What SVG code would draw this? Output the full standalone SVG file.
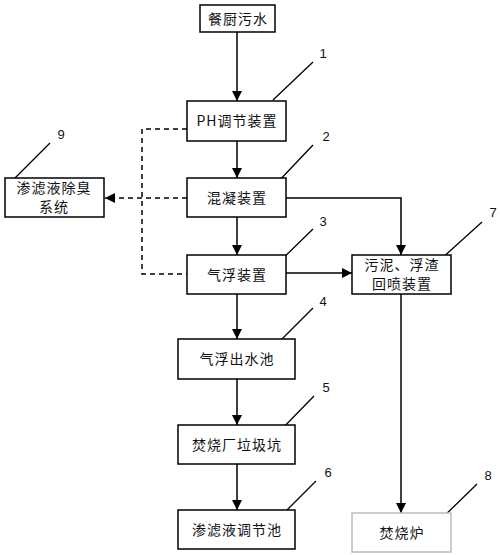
<svg xmlns="http://www.w3.org/2000/svg" width="500" height="555" viewBox="0 0 500 555">
<style>
.box{fill:#fff;stroke:#000;stroke-width:1.5}
.gbox{fill:#fff;stroke:#bdbdbd;stroke-width:1.5}
.t{font-family:"Noto Sans CJK SC","Noto Sans",sans-serif;font-size:14px;text-anchor:middle;fill:#111;letter-spacing:1px}
.n{font-family:"Liberation Sans","Noto Sans",sans-serif;font-size:13px;text-anchor:middle;fill:#111}
.c{fill:none;stroke:#000;stroke-width:1.5}
.d{fill:none;stroke:#000;stroke-width:1.5;stroke-dasharray:5,4}
.l{stroke:#000;stroke-width:1.3}
</style>
<defs>
<marker id="ah" viewBox="0 0 10 10" refX="10" refY="5" markerWidth="7" markerHeight="7" orient="auto" markerUnits="userSpaceOnUse">
<path d="M0,0 L10,5 L0,10 Z" fill="#000"/>
</marker>
<marker id="ahb" viewBox="0 0 10 10" refX="10" refY="5" markerWidth="10" markerHeight="10" orient="auto" markerUnits="userSpaceOnUse">
<path d="M0,0 L10,5 L0,10 Z" fill="#000"/>
</marker>
</defs>
<g id="connectors">
<path class="c" d="M237,32 V101" marker-end="url(#ahb)"/>
<path class="c" d="M237,141 V178" marker-end="url(#ahb)"/>
<path class="c" d="M237,217 V255" marker-end="url(#ahb)"/>
<path class="c" d="M237,294 V339" marker-end="url(#ahb)"/>
<path class="c" d="M237,379 V425" marker-end="url(#ahb)"/>
<path class="c" d="M237,464 V510" marker-end="url(#ahb)"/>
<path class="c" d="M286,198 H401 V255" marker-end="url(#ahb)"/>
<path class="c" d="M286,273 H352" marker-end="url(#ahb)"/>
<path class="c" d="M401,294 V513" marker-end="url(#ahb)"/>
<path class="d" d="M187,129 H142 V274 H187"/>
<path class="d" d="M187,198 H105" marker-end="url(#ahb)"/>
<line class="l" x1="273" y1="100" x2="313" y2="62"/>
<line class="l" x1="275" y1="185" x2="313" y2="145"/>
<line class="l" x1="273" y1="268" x2="313" y2="229"/>
<line class="l" x1="273" y1="348" x2="313" y2="308"/>
<line class="l" x1="275" y1="436" x2="314" y2="396"/>
<line class="l" x1="277" y1="520" x2="316" y2="481"/>
<line class="l" x1="440" y1="260" x2="482" y2="222"/>
<line class="l" x1="437" y1="523" x2="477" y2="484"/>
<line class="l" x1="10" y1="183" x2="50" y2="143"/>
</g>
<g id="n0"><rect class="box" x="200" y="5" width="75" height="27"/><text class="t" x="238" y="24">餐厨污水</text></g>
<g id="n1"><rect class="box" x="187" y="101" width="99" height="40"/><text class="t" x="237" y="126">PH调节装置</text><text class="n" x="323" y="58">1</text></g>
<g id="n2"><rect class="box" x="187" y="178" width="99" height="39"/><text class="t" x="237" y="203">混凝装置</text><text class="n" x="326" y="141">2</text></g>
<g id="n3"><rect class="box" x="187" y="255" width="99" height="39"/><text class="t" x="237" y="280">气浮装置</text><text class="n" x="323" y="226">3</text></g>
<g id="n4"><rect class="box" x="178" y="339" width="117" height="40"/><text class="t" x="237" y="364">气浮出水池</text><text class="n" x="323" y="306">4</text></g>
<g id="n5"><rect class="box" x="178" y="425" width="117" height="39"/><text class="t" x="237" y="450">焚烧厂垃圾坑</text><text class="n" x="326" y="392">5</text></g>
<g id="n6"><rect class="box" x="178" y="510" width="117" height="39"/><text class="t" x="237" y="535">渗滤液调节池</text><text class="n" x="328" y="477">6</text></g>
<g id="n7"><rect class="box" x="352" y="255" width="99" height="39"/><text class="t" x="402" y="270">污泥、浮渣</text><text class="t" x="402" y="289">回喷装置</text><text class="n" x="493" y="217">7</text></g>
<g id="n8"><rect class="gbox" x="352" y="513" width="99" height="39"/><text class="t" x="402" y="538">焚烧炉</text><text class="n" x="488" y="480">8</text></g>
<g id="n9"><rect class="box" x="5" y="178" width="99" height="39"/><text class="t" x="54" y="193">渗滤液除臭</text><text class="t" x="54" y="212">系统</text><text class="n" x="61" y="139">9</text></g>
</svg>
